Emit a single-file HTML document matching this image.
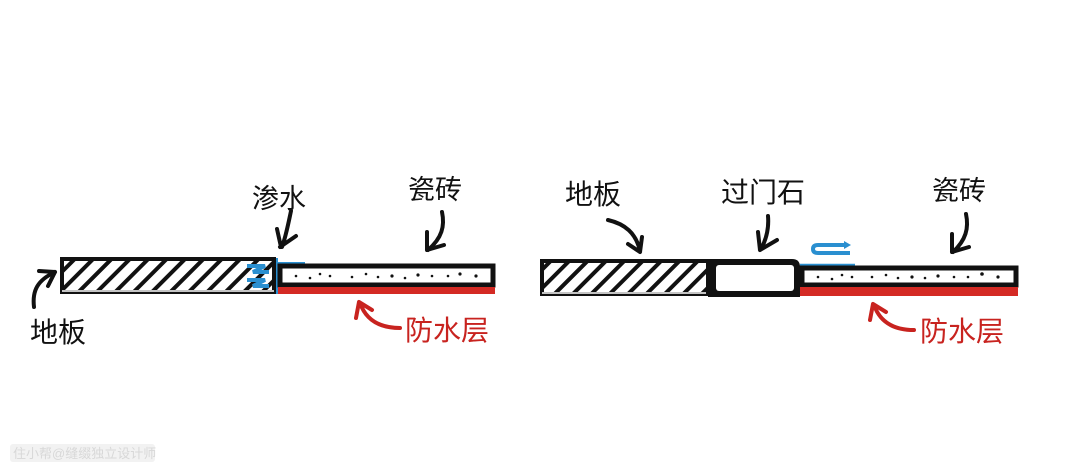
<!DOCTYPE html>
<html><head><meta charset="utf-8"><style>
html,body{margin:0;padding:0;background:#fff;}
svg{display:block}
text{font-family:"Liberation Sans","Noto Sans CJK SC",sans-serif;}
</style></head><body>
<svg width="1080" height="473" viewBox="0 0 1080 473" xmlns="http://www.w3.org/2000/svg">
<defs>
<pattern id="hatch" width="13" height="13" patternUnits="userSpaceOnUse" patternTransform="rotate(45)">
<rect width="13" height="13" fill="#fff"/><rect x="0" y="0" width="4" height="13" fill="#111"/>
</pattern>
</defs>
<rect width="1080" height="473" fill="#fff"/>

<!-- LEFT -->
<rect x="62" y="259" width="212" height="33" fill="url(#hatch)" stroke="#111" stroke-width="4"/>
<line x1="62" y1="291" x2="274" y2="291" stroke="#fff" stroke-width="1.5"/>
<path d="M247 266 h18 l-12 6 h16 M247 280 h18 l-12 6 h16" stroke="#2a8fd0" stroke-width="4" fill="none"/>
<line x1="277" y1="258" x2="277" y2="294" stroke="#2a8fd0" stroke-width="2"/>
<line x1="277" y1="263" x2="305" y2="263" stroke="#2a8fd0" stroke-width="2"/>
<rect x="280" y="266" width="213" height="19" fill="#fff" stroke="#111" stroke-width="5"/>
<rect x="278" y="287" width="217" height="7" fill="#d42a24"/>
<g fill="#111">
<circle cx="296" cy="276" r="1.3"/><circle cx="310" cy="278" r="1.3"/><circle cx="320" cy="274" r="1.3"/><circle cx="330" cy="276" r="1.3"/><circle cx="352" cy="277" r="1.3"/><circle cx="366" cy="274" r="1.3"/><circle cx="378" cy="277" r="1.3"/><circle cx="392" cy="276" r="1.6"/><circle cx="405" cy="278" r="1.3"/><circle cx="418" cy="275" r="1.6"/><circle cx="432" cy="276" r="1.3"/><circle cx="448" cy="276" r="1.3"/><circle cx="460" cy="274" r="1.6"/><circle cx="476" cy="276" r="1.6"/>
</g>
<text x="252" y="208" font-size="27" fill="#111">渗水</text>
<path d="M291 211 C288 225 286 236 282 247 M280 247 L296 236 M281 247 L277 229" stroke="#111" stroke-width="4" fill="none" stroke-linecap="round"/>
<text x="408" y="199" font-size="27" fill="#111">瓷砖</text>
<path d="M442 212 C445 226 442 238 428 250 M427 250 L444 245 M427 250 L427 232" stroke="#111" stroke-width="4" fill="none" stroke-linecap="round"/>
<text x="30" y="342" font-size="28" fill="#111">地板</text>
<path d="M34 307 C32 290 38 280 55 272 M55 272 L39 271 M55 272 L48 286" stroke="#111" stroke-width="4" fill="none" stroke-linecap="round"/>
<text x="405" y="340" font-size="28" fill="#c8231f">防水层</text>
<path d="M400 328 C380 328 366 320 360 303 M359 302 L356 318 M359 302 L372 310" stroke="#c8231f" stroke-width="4" fill="none" stroke-linecap="round"/>

<!-- RIGHT -->
<rect x="542" y="261" width="166" height="33" fill="url(#hatch)" stroke="#111" stroke-width="4"/>
<line x1="542" y1="293" x2="706" y2="293" stroke="#fff" stroke-width="1.5"/>
<path d="M708 259 H792 Q800 259 800 267 V297 H708 Z" fill="#111"/>
<rect x="716" y="265" width="78" height="26" rx="3" fill="#fff"/>
<line x1="800" y1="265" x2="855" y2="265" stroke="#2a8fd0" stroke-width="2.5"/>
<path d="M846 245 H818 Q813 245 813 249 Q813 253 818 253 H850" stroke="#2a8fd0" stroke-width="4" fill="none"/>
<path d="M844 241 L851 245 L844 249 Z" fill="#2a8fd0"/>
<rect x="802" y="268" width="214" height="17" fill="#fff" stroke="#111" stroke-width="5"/>
<rect x="800" y="287" width="218" height="9" fill="#d42a24"/>
<g fill="#111">
<circle cx="818" cy="277" r="1.3"/><circle cx="832" cy="279" r="1.3"/><circle cx="842" cy="275" r="1.3"/><circle cx="852" cy="277" r="1.3"/><circle cx="872" cy="277" r="1.3"/><circle cx="886" cy="275" r="1.3"/><circle cx="898" cy="278" r="1.3"/><circle cx="912" cy="277" r="1.6"/><circle cx="925" cy="278" r="1.3"/><circle cx="938" cy="276" r="1.6"/><circle cx="954" cy="277" r="1.3"/><circle cx="968" cy="277" r="1.3"/><circle cx="982" cy="274" r="1.8"/><circle cx="998" cy="277" r="1.6"/>
</g>
<text x="565" y="204" font-size="28" fill="#111">地板</text>
<path d="M608 220 C625 224 636 233 640 251 M640 252 L642 237 M640 252 L628 244" stroke="#111" stroke-width="4" fill="none" stroke-linecap="round"/>
<text x="721" y="202" font-size="28" fill="#111">过门石</text>
<path d="M768 216 C769 228 767 238 761 249 M760 250 L777 240 M760 250 L758 232" stroke="#111" stroke-width="4" fill="none" stroke-linecap="round"/>
<text x="932" y="200" font-size="27" fill="#111">瓷砖</text>
<path d="M966 214 C969 228 966 240 953 252 M952 252 L969 247 M952 252 L952 234" stroke="#111" stroke-width="4" fill="none" stroke-linecap="round"/>
<text x="920" y="341" font-size="28" fill="#c8231f">防水层</text>
<path d="M914 330 C894 330 880 322 874 305 M873 304 L870 320 M873 304 L886 312" stroke="#c8231f" stroke-width="4" fill="none" stroke-linecap="round"/>

<!-- watermark -->
<rect x="10" y="444" width="145" height="18" rx="3" fill="#f2f2f2"/>
<text x="13" y="458" font-size="13" fill="#d8d8d8">住小帮@缝缀独立设计师</text>
</svg>
</body></html>
